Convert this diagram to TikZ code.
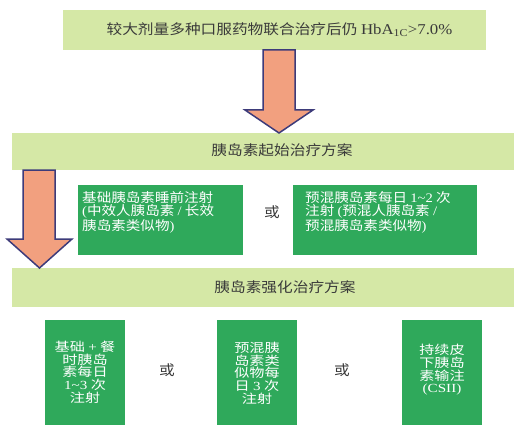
\documentclass[tikz,border=0pt]{standalone}
\usepackage{fontspec}
\setmainfont{Liberation Serif}[FakeStretch=1.12]
\newfontfamily\cjk{Noto Sans CJK SC}[FakeStretch=1.12]
\newfontfamily\cjkw{Noto Sans CJK SC}[FakeStretch=1.22]
\newfontfamily\ltw{Liberation Serif}[FakeStretch=1.22]
\definecolor{barfill}{HTML}{D5E8A6}
\definecolor{boxgreen}{HTML}{2FA95B}
\definecolor{arrfill}{HTML}{F2A07F}
\definecolor{arrline}{HTML}{3D3B7A}
\definecolor{txtgray}{HTML}{3A3A3A}
\newcommand\lt[1]{{\rmfamily #1}}
\newcommand\lw[1]{{\ltw #1}}
\newcommand\tld{{\rmfamily\char"007E}}
\newcommand\tldw{{\ltw\char"007E}}
\tikzset{
  bar/.style={fill=barfill, draw=none, inner sep=0pt, anchor=north west},
  gbox/.style={fill=boxgreen, draw=none, inner sep=0pt, anchor=north west},
  bartext/.style={text=txtgray, inner sep=0pt, font=\cjk\fontsize{14}{15}\selectfont},
  ortext/.style={text=txtgray, inner sep=0pt, font=\cjk\fontsize{14}{15}\selectfont},
  wtext/.style={text=white, inner sep=0pt, font=\cjk\fontsize{13}{13.3}\selectfont, align=left},
  vtext/.style={text=white, inner sep=0pt, font=\cjkw\fontsize{12.4}{12.7}\selectfont, align=center},
  bigarrow/.style={fill=arrfill, draw=arrline, line width=1.5pt, line join=miter}
}
\begin{document}
\begin{tikzpicture}[x=1pt,y=-1pt]
\useasboundingbox (0,0) rectangle (514,425);
\clip (0,0) rectangle (514,425);
\fill[white] (0,0) rectangle (514,425);
% bars
\node[bar, minimum width=423pt, minimum height=40pt] (topbar) at (63,10) {};
\node[bar, minimum width=502pt, minimum height=37pt] (bar2) at (12,133) {};
\node[bar, minimum width=502pt, minimum height=39pt] (bar3) at (12,268) {};
\node[bartext] (toptext) at (279.5,30) {较大剂量多种口服药物联合治疗后仍 \lt{\fontsize{15}{15}\selectfont HbA\textsubscript{1C}>7.0\%}};
\node[bartext] (bar2text) at (282,150) {胰岛素起始治疗方案};
\node[bartext] (bar3text) at (285,287) {胰岛素强化治疗方案};
% arrows
\draw[bigarrow] (263,50) -- (295,50) -- (295,110) -- (313,110) -- (279,133) -- (245,110) -- (263,110) -- cycle;
\draw[bigarrow] (23,170) -- (55,170) -- (55,239) -- (72,239) -- (39.5,268) -- (7,239) -- (23,239) -- cycle;
% row 2
\node[gbox, minimum width=165pt, minimum height=70pt] (b2a) at (78,185) {};
\node[gbox, minimum width=184pt, minimum height=70pt] (b2b) at (293,185) {};
\node[wtext, anchor=west] (t2a) at (82,212) {基础胰岛素睡前注射\\\lt{(}中效人胰岛素 \lt{/} 长效\\胰岛素类似物\lt{)}};
\node[wtext, anchor=west] (t2b) at (305,212) {预混胰岛素每日 \lt{1\tld2} 次\\注射 \lt{(}预混人胰岛素 \lt{/}\\预混胰岛素类似物\lt{)}};
\node[ortext] (or1) at (272,212) {或};
% row 3
\node[gbox, minimum width=80pt, minimum height=110pt] (b3a) at (45,320) {};
\node[gbox, minimum width=80pt, minimum height=110pt] (b3b) at (217,320) {};
\node[gbox, minimum width=80pt, minimum height=110pt] (b3c) at (402,320) {};
\node[vtext] (t3a) at (85,372) {基础 \lw{+} 餐\\时胰岛\\素每日\\\lw{1\tldw3} 次\\注射};
\node[vtext] (t3b) at (257,373) {预混胰\\岛素类\\似物每\\日 \lw{3} 次\\注射};
\node[vtext] (t3c) at (442,370) {持续皮\\下胰岛\\素输注\\\lw{(CSII)}};
\node[ortext] (or2) at (167,370) {或};
\node[ortext] (or3) at (342,370) {或};
\end{tikzpicture}
\end{document}
